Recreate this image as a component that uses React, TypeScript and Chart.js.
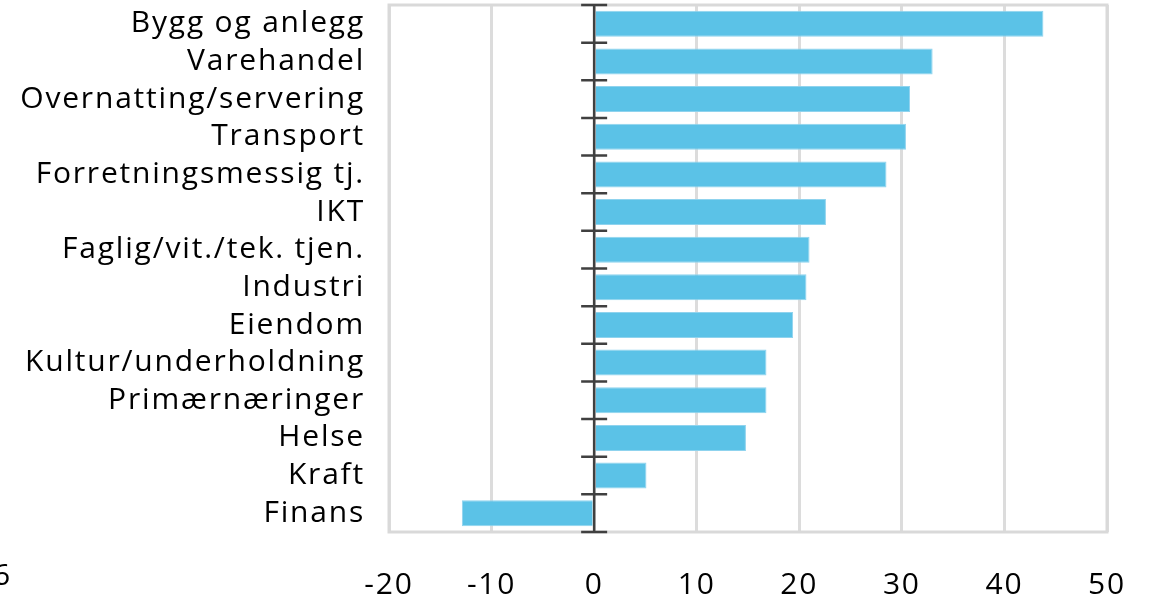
import React, { useEffect, useRef } from "react";
import { Chart, registerables } from "chart.js";

Chart.register(...registerables);

const categories = [
  "Bygg og anlegg",
  "Varehandel",
  "Overnatting/servering",
  "Transport",
  "Forretningsmessig tj.",
  "IKT",
  "Faglig/vit./tek. tjen.",
  "Industri",
  "Eiendom",
  "Kultur/underholdning",
  "Primærnæringer",
  "Helse",
  "Kraft",
  "Finans",
];
const values = [43.8, 33.0, 30.8, 30.4, 28.5, 22.6, 21.0, 20.7, 19.4, 16.8, 16.8, 14.8, 5.1, -12.9];
const xMin = -20;
const xMax = 50;
const xStep = 10;
const cornerText = "6";

const FONT = "'Open Sans', 'Noto Sans', sans-serif";
const SPACING = "1.8px";

export default function App() {
  const ref = useRef<HTMLCanvasElement | null>(null);
  useEffect(() => {
    if (!ref.current) return;
    const spacingPlugin = {
      id: "spacing",
      beforeUpdate(chart: any) {
        chart.ctx.letterSpacing = SPACING;
      },
      beforeDraw(chart: any) {
        chart.ctx.letterSpacing = SPACING;
      },
    };
    const framePlugin = {
      id: "frame",
      afterDatasetsDraw(chart: any) {
        const { ctx, chartArea, scales } = chart;
        const x0 = scales.x.getPixelForValue(0);
        ctx.save();
        ctx.strokeStyle = "#d9d9d9";
        ctx.lineWidth = 3;
        ctx.strokeRect(chartArea.left, chartArea.top, chartArea.right - chartArea.left, chartArea.bottom - chartArea.top);
        ctx.strokeStyle = "#404040";
        ctx.lineWidth = 2.5;
        ctx.beginPath();
        ctx.moveTo(x0, chartArea.top);
        ctx.lineTo(x0, chartArea.bottom);
        const n = categories.length;
        const h = (chartArea.bottom - chartArea.top) / n;
        for (let i = 0; i <= n; i++) {
          const y = chartArea.top + i * h;
          ctx.moveTo(x0 - 13, y);
          ctx.lineTo(x0 + 13, y);
        }
        ctx.stroke();
        ctx.fillStyle = "#000";
        ctx.font = `30px ${FONT}`;
        ctx.textAlign = "right";
        ctx.textBaseline = "alphabetic";
        ctx.fillText(cornerText, 12, 585);
        ctx.restore();
      },
    };
    const chart = new Chart(ref.current, {
      type: "bar",
      data: {
        labels: categories,
        datasets: [
          {
            data: values,
            backgroundColor: "#5bc2e7",
            borderColor: "#8fd3ee",
            borderWidth: 1,
            barPercentage: 0.69,
            categoryPercentage: 1,
          },
        ],
      },
      options: {
        indexAxis: "y",
        animation: false,
        responsive: false,
        maintainAspectRatio: false,
        layout: { padding: { top: 5, right: 49, left: 0, bottom: 0 } },
        plugins: { legend: { display: false }, tooltip: { enabled: false } },
        scales: {
          x: {
            min: xMin,
            max: xMax,
            ticks: { stepSize: xStep, color: "#000", font: { family: FONT, size: 30 }, padding: 35 },
            grid: { color: "#dcdcdc", lineWidth: 3, drawTicks: false },
            border: { display: false },
            afterFit(scale: any) {
              scale.height = 70;
              scale.paddingLeft = 0;
              scale.paddingRight = 0;
            },
          },
          y: {
            ticks: { color: "#000", font: { family: FONT, size: 30 }, padding: 24, autoSkip: false },
            grid: { display: false, drawTicks: false },
            border: { display: false },
            afterFit(scale: any) {
              scale.width = 389;
              scale.paddingTop = 0;
              scale.paddingBottom = 0;
            },
          },
        },
      },
      plugins: [spacingPlugin, framePlugin],
    });
    return () => chart.destroy();
  }, []);
  return (
    <div style={{ position: "fixed", left: 0, top: 0, width: 1156, height: 602, background: "#fff" }}>
      <canvas ref={ref} width={1156} height={602} style={{ width: 1156, height: 602 }} />
    </div>
  );
}
